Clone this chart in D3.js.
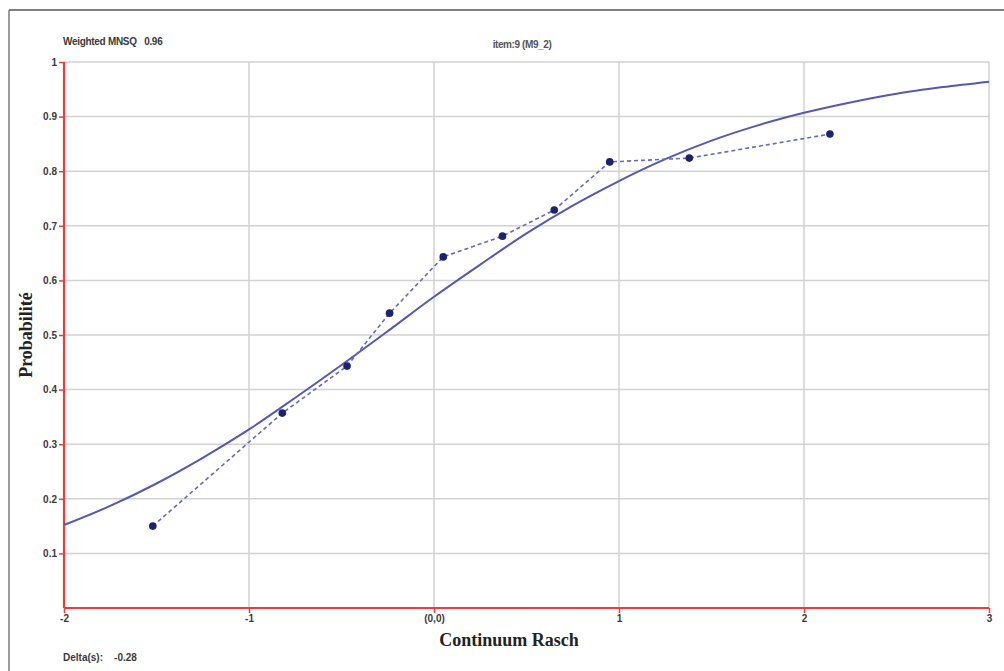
<!DOCTYPE html>
<html>
<head>
<meta charset="utf-8">
<script src="https://cdn.jsdelivr.net/npm/d3@7"></script>
<style>
  html, body { margin: 0; padding: 0; background: #fff; }
  svg { display: block; }
</style>
</head>
<body>
<svg id="chart" width="1004" height="671"></svg>
<script>
// Item characteristic curve: model (expected) probability along the Rasch continuum
const curveTheta = [-2, -1.75, -1.5, -1.25, -1, -0.75, -0.5, -0.25, 0, 0.25, 0.5, 0.75, 1, 1.25, 1.5, 1.75, 2, 2.25, 2.5, 2.75, 3];
const curveProb  = [0.152, 0.187, 0.228, 0.275, 0.327, 0.385, 0.445, 0.507, 0.570, 0.629, 0.686, 0.737, 0.782, 0.822, 0.856, 0.884, 0.907, 0.926, 0.942, 0.954, 0.964];

// Observed proportions per ability group
const obsTheta = [-1.52, -0.82, -0.47, -0.24, 0.05, 0.37, 0.65, 0.95, 1.38, 2.14];
const obsProb  = [0.150, 0.357, 0.443, 0.540, 0.643, 0.681, 0.729, 0.817, 0.824, 0.868];

// Axis ticks
const xTicks = [-2, -1, 0, 1, 2, 3];
const xTickLabels = ["-2", "-1", "(0,0)", "1", "2", "3"];
const yTicks = [0.1, 0.2, 0.3, 0.4, 0.5, 0.6, 0.7, 0.8, 0.9, 1];
const yTickLabels = ["0.1", "0.2", "0.3", "0.4", "0.5", "0.6", "0.7", "0.8", "0.9", "1"];

const itemTitle = "item:9 (M9_2)";
const fitLabel = "Weighted MNSQ   0.96";
const deltaLabel = "Delta(s):    -0.28";

const svg = d3.select("#chart");
const x = d3.scaleLinear().domain([-2, 3]).range([64, 989]);
const y = d3.scaleLinear().domain([0, 1]).range([608, 62]);

// outer frame
svg.append("line").attr("x1", 9).attr("x2", 1004).attr("y1", 10).attr("y2", 10)
  .attr("stroke", "#555").attr("stroke-width", 1.3);
svg.append("line").attr("x1", 9).attr("x2", 9).attr("y1", 10).attr("y2", 671)
  .attr("stroke", "#666").attr("stroke-width", 1.3);

// grid
const grid = svg.append("g");
grid.selectAll("line.v").data(xTicks.slice(1)).join("line")
  .attr("x1", d => x(d)).attr("x2", d => x(d)).attr("y1", y(1)).attr("y2", y(0))
  .attr("stroke", "#d2d2d2").attr("stroke-width", 1.5);
grid.selectAll("line.h").data(yTicks).join("line")
  .attr("x1", x(-2)).attr("x2", x(3)).attr("y1", d => y(d)).attr("y2", d => y(d))
  .attr("stroke", "#d2d2d2").attr("stroke-width", 1.5);

// axes
const red = "#ee3b3b";
const sans = "Arial, 'Liberation Sans', sans-serif";
const xAxis = d3.axisBottom(x).tickValues(xTicks).tickSize(5)
  .tickFormat((d, i) => xTickLabels[i]);
const gx = svg.append("g").attr("transform", `translate(0,${y(0)})`).call(xAxis);
gx.select(".domain").attr("stroke", red).attr("stroke-width", 2.2).attr("d", `M${x(-2)},0H${x(3)}`);
gx.selectAll(".tick line").attr("stroke", red).attr("stroke-width", 1.5);
gx.selectAll(".tick text").attr("fill", "#3a3a3a").attr("font-family", sans)
  .attr("font-size", 10).attr("font-weight", "bold").attr("dy", "0.6em");

const yAxis = d3.axisLeft(y).tickValues(yTicks).tickSize(5)
  .tickFormat((d, i) => yTickLabels[i]);
const gy = svg.append("g").attr("transform", `translate(${x(-2)},0)`).call(yAxis);
gy.select(".domain").attr("stroke", red).attr("stroke-width", 2.2).attr("d", `M0,${y(1)}V${y(0)}`);
gy.selectAll(".tick line").attr("stroke", red).attr("stroke-width", 1.5);
gy.selectAll(".tick text").attr("fill", "#3a3a3a").attr("font-family", sans)
  .attr("font-size", 10).attr("font-weight", "bold").attr("x", -7);

// expected curve
const curvePts = curveTheta.map((t, i) => [t, curveProb[i]]);
svg.append("path").datum(curvePts)
  .attr("fill", "none").attr("stroke", "#5558b4").attr("stroke-width", 2)
  .attr("d", d3.line().x(d => x(d[0])).y(d => y(d[1])).curve(d3.curveMonotoneX));

// observed proportions
const obsPts = obsTheta.map((t, i) => [t, obsProb[i]]);
svg.append("path").datum(obsPts)
  .attr("fill", "none").attr("stroke", "#6468c4").attr("stroke-width", 1.6)
  .attr("stroke-dasharray", "4,3")
  .attr("d", d3.line().x(d => x(d[0])).y(d => y(d[1])));
svg.selectAll("circle.obs").data(obsPts).join("circle")
  .attr("cx", d => x(d[0])).attr("cy", d => y(d[1])).attr("r", 3.8)
  .attr("fill", "#1c2170");

// texts
svg.append("text").attr("x", 63).attr("y", 45).text(fitLabel)
  .attr("font-family", sans).attr("font-size", 10).attr("font-weight", "bold").attr("fill", "#3a3a3a")
  .attr("letter-spacing", -0.3).style("white-space", "pre");
svg.append("text").attr("x", 522).attr("y", 48).attr("text-anchor", "middle").text(itemTitle)
  .attr("font-family", sans).attr("font-size", 10).attr("font-weight", "bold").attr("fill", "#555")
  .attr("letter-spacing", -0.4);
svg.append("text").attr("x", 63).attr("y", 661).text(deltaLabel)
  .attr("font-family", sans).attr("font-size", 10).attr("font-weight", "bold").attr("fill", "#3a3a3a")
  .style("white-space", "pre");

const serif = "'Liberation Serif', 'DejaVu Serif', serif";
svg.append("text").attr("x", 509).attr("y", 646).attr("text-anchor", "middle").text("Continuum Rasch")
  .attr("font-family", serif).attr("font-size", 18).attr("font-weight", "bold").attr("fill", "#222");
svg.append("text").attr("transform", "translate(32,335) rotate(-90)").attr("text-anchor", "middle")
  .text("Probabilité")
  .attr("font-family", serif).attr("font-size", 18).attr("font-weight", "bold").attr("fill", "#222");
</script>
</body>
</html>
